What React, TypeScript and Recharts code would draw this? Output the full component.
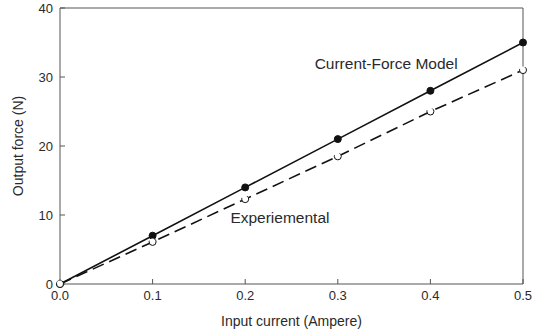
import React from 'react'
import {
  LineChart,
  Line,
  XAxis,
  YAxis,
  ReferenceLine,
  ReferenceDot,
  Label,
} from 'recharts'

// values
const currents = [0, 0.1, 0.2, 0.3, 0.4, 0.5]
const modelForce = [0, 7, 14, 21, 28, 35]
const measuredForce = [0, 6.1, 12.3, 18.5, 25, 31]
const xTicks = [0, 0.1, 0.2, 0.3, 0.4, 0.5]
const yTicks = [0, 10, 20, 30, 40]

const font = 'Arial, "Liberation Sans", Helvetica, sans-serif'
const frame = '#555'
const ink = '#2a2a2a'

export default function App() {
  const data = currents.map((c, i) => ({
    current: c,
    model: modelForce[i],
    measured: measuredForce[i],
  }))

  return (
    <div style={{ position: 'absolute', left: 0, top: 0, width: 540, height: 330, background: '#fff' }}>
      <LineChart
        width={540}
        height={330}
        data={data}
        margin={{ top: 8, right: 17, bottom: 4, left: 10 }}
        style={{ fontFamily: font }}
      >
        <XAxis
          dataKey="current"
          type="number"
          domain={[0, 0.5]}
          ticks={xTicks}
          tickFormatter={(v) => v.toFixed(1)}
          height={42}
          stroke={frame}
          tickSize={-5}
          tickMargin={12}
          tick={{ fill: ink, fontSize: 13 }}
        >
          <Label
            value="Input current (Ampere)"
            position="insideBottom"
            offset={0}
            style={{ fill: ink, fontSize: 14, fontFamily: font }}
          />
        </XAxis>
        <YAxis
          type="number"
          domain={[0, 40]}
          ticks={yTicks}
          width={50}
          stroke={frame}
          tickSize={-5}
          tickMargin={12}
          tick={{ fill: ink, fontSize: 13 }}
        >
          <Label
            value="Output force (N)"
            angle={-90}
            position="insideLeft"
            offset={8}
            style={{ fill: ink, fontSize: 14, fontFamily: font, textAnchor: 'middle' }}
          />
        </YAxis>
        <ReferenceLine y={40} stroke={frame} />
        <ReferenceLine x={0.5} stroke={frame} />
        <Line
          dataKey="model"
          stroke="#111"
          strokeWidth={1.6}
          dot={{ r: 3.5, fill: '#111', stroke: '#111', strokeWidth: 1 }}
          isAnimationActive={false}
        />
        <Line
          dataKey="measured"
          stroke="#111"
          strokeWidth={1.6}
          strokeDasharray="12 6"
          dot={{ r: 3.5, fill: '#fff', stroke: '#111', strokeWidth: 1 }}
          isAnimationActive={false}
        />
        <ReferenceDot
          x={0.275}
          y={31.9}
          r={0}
          stroke="none"
          label={{ value: 'Current-Force Model', position: 'right', offset: 0, fill: ink, fontSize: 15.5 }}
        />
        <ReferenceDot
          x={0.184}
          y={9.7}
          r={0}
          stroke="none"
          label={{ value: 'Experiemental', position: 'right', offset: 0, fill: ink, fontSize: 15.5 }}
        />
      </LineChart>
    </div>
  )
}
